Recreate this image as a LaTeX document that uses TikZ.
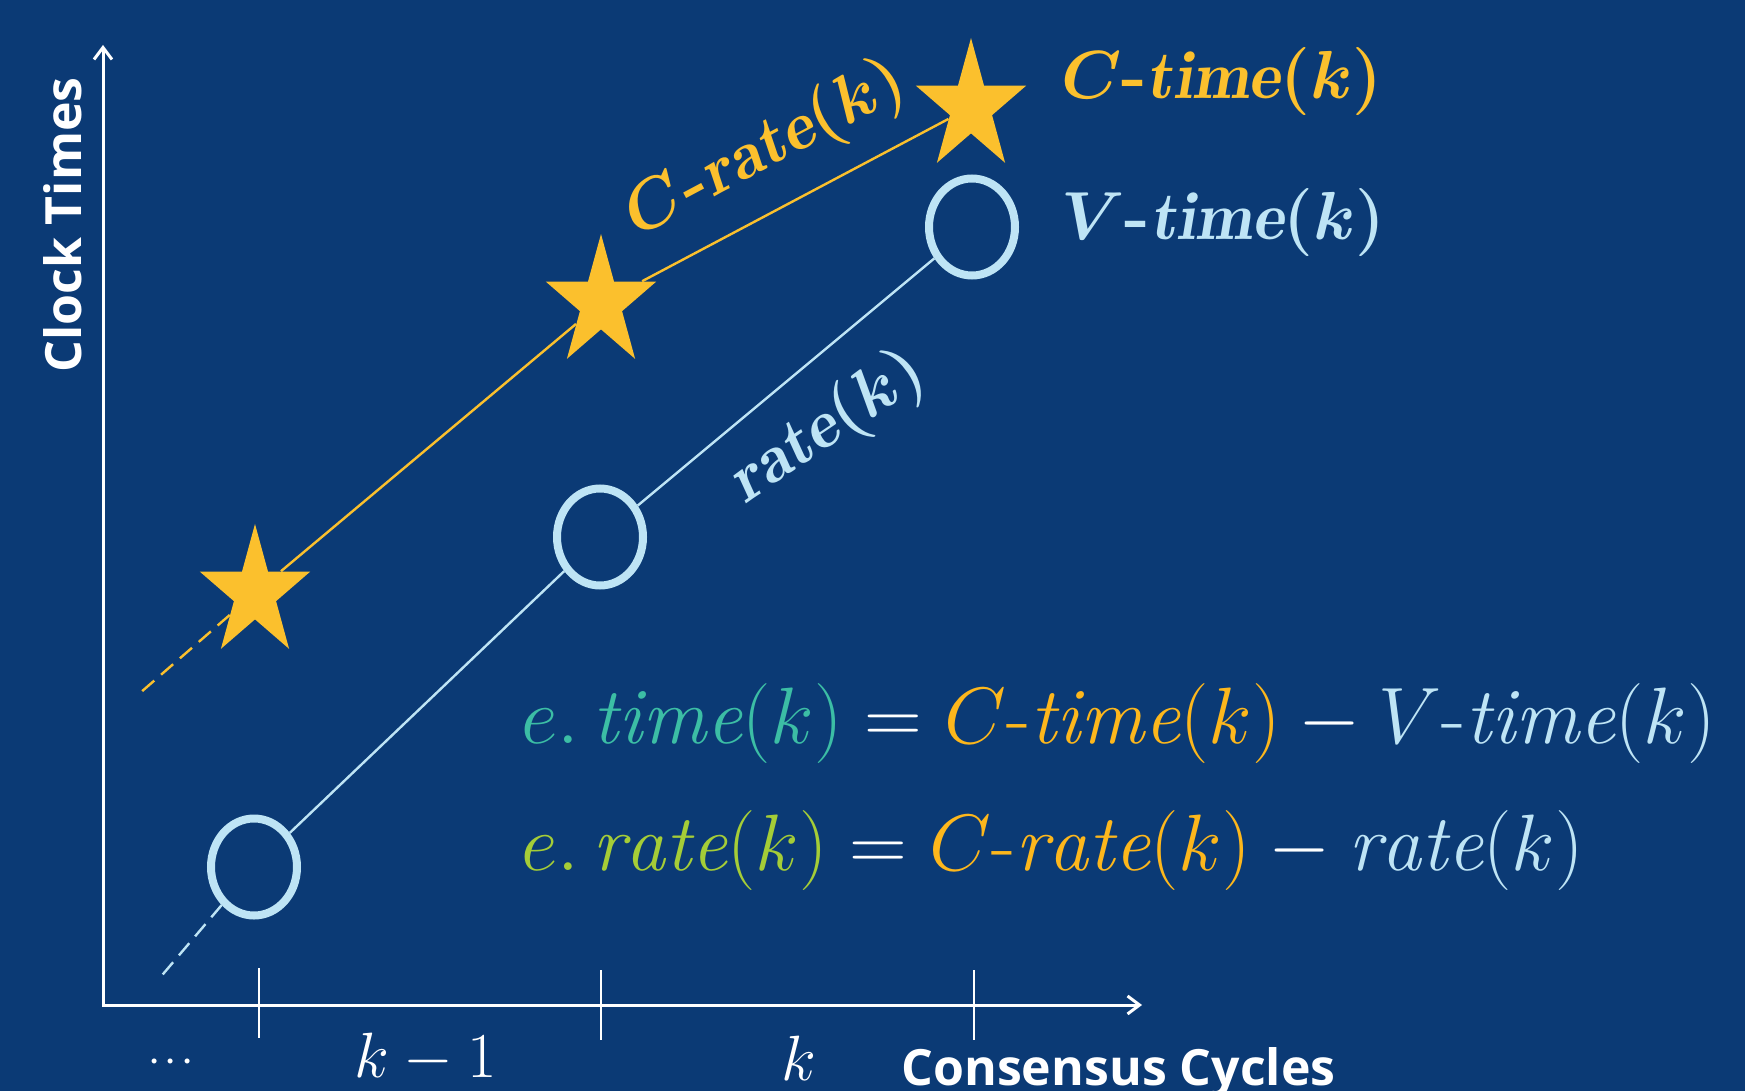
\RequirePackage{fix-cm}
\documentclass[tikz,border=0pt]{standalone}
\usepackage{amsmath}
\usepackage{fontspec}
\setsansfont{Open Sans}
\usetikzlibrary{positioning,arrows.meta,shapes.geometric}
\definecolor{bgblue}{RGB}{11,58,117}
\definecolor{staryel}{RGB}{251,192,45}
\definecolor{vblue}{RGB}{190,228,245}
\definecolor{cyel}{RGB}{253,183,28}
\definecolor{eteal}{RGB}{60,190,165}
\definecolor{elime}{RGB}{165,205,55}

\begin{document}
\begin{tikzpicture}[
  x=0.5pt, y=-0.5pt,
  cstar/.style={star, star points=5, star point ratio=2.618, fill=staryel,
    inner sep=0pt, minimum size=58pt, yscale=1.19, transform shape},
  vring/.style={ellipse, draw=vblue, line width=4pt, inner sep=0pt,
    minimum width=43pt, minimum height=48.5pt},
  cline/.style={draw=staryel, line width=1.2pt},
  vline/.style={draw=vblue, line width=1.2pt},
  gap/.style={dash pattern=on 8pt off 4.5pt},
  axis/.style={draw=white, line width=1.5pt},
  tickline/.style={draw=white, line width=1pt},
  axtitle/.style={text=white, inner sep=0pt, font=\sffamily\bfseries\fontsize{25pt}{30pt}\selectfont},
  ticklab/.style={text=white, font=\fontsize{32pt}{36pt}\selectfont},
  clabel/.style={text=staryel, font=\boldmath\fontsize{34pt}{40pt}\selectfont},
  vlabel/.style={text=vblue, font=\boldmath\fontsize{34pt}{40pt}\selectfont},
  formula/.style={text=white, anchor=west, font=\fontsize{40pt}{46pt}\selectfont}
]
\path[use as bounding box] (0,0) rectangle (1745,1091);
\clip (0,0) rectangle (1745,1091);
\fill[bgblue] (0,0) rectangle (1745,1091);

% axes
\coordinate (o) at (103,1005);
\coordinate (ytop) at (103,45);
\coordinate (xend) at (1142,1005);
\draw[axis, {Straight Barb[length=6pt,width=9pt]}-{Straight Barb[length=6pt,width=9pt]}] (ytop) -- (o) -- (xend);
\draw[tickline] (259,968) -- (259,1038);
\draw[tickline] (601,970) -- (601,1040);
\draw[tickline] (974,970) -- (974,1040);
\node[axtitle, rotate=90, anchor=base] (ytitle) at (81,225) {Clock Times};
\node[axtitle, anchor=base west] (xtitle) at (901,1085) {Consensus Cycles};
\node[ticklab, anchor=base, font=\boldmath\fontsize{16pt}{20pt}\selectfont] (dots) at (174,1069) {$\cdots$};
\node[ticklab] (kprev) at (426,1058) {$k-1$};
\node[ticklab] (know) at (799,1058) {$k$};

% C-times and V-times
\node[cstar] (s1) at (255,593) {};
\node[cstar] (s2) at (601,303) {};
\node[cstar] (s3) at (971,107) {};
\node[vring] (v1) at (254,867) {};
\node[vring] (v2) at (600,537) {};
\node[vring] (v3) at (972,227) {};
\coordinate (cend) at (140,693);
\coordinate (vend) at (158,980);
\draw[cline] (s1) -- (s2) -- (s3);
\draw[cline, gap] (s1) -- (cend);
\draw[vline] (v1) -- (v2) -- (v3);
\draw[vline, gap] (v1) -- (vend);

% labels
\node[clabel, rotate=28] (crate) at (766,150) {$C\textbf{-}\mathit{rate}(k)$};
\node[vlabel, rotate=34] (vrate) at (828,428) {$\mathit{rate}(k)$};
\node[clabel, anchor=west] (ctime) at (1054,82) {$C\textbf{-}\mathit{time}(k)$};
\node[vlabel, anchor=west] (vtime) at (1054,223) {$V\textbf{-}\mathit{time}(k)$};

% error terms
\node[formula] (etime) at (514,723) {$\textcolor{eteal}{e.\,\mathit{time}(k)} = \textcolor{cyel}{C\text{-}\mathit{time}(k)} - \textcolor{vblue}{V\text{-}\mathit{time}(k)}$};
\node[formula] (erate) at (514,850) {$\textcolor{elime}{e.\,\mathit{rate}(k)} = \textcolor{cyel}{C\text{-}\mathit{rate}(k)} - \textcolor{vblue}{\mathit{rate}(k)}$};
\end{tikzpicture}
\end{document}
